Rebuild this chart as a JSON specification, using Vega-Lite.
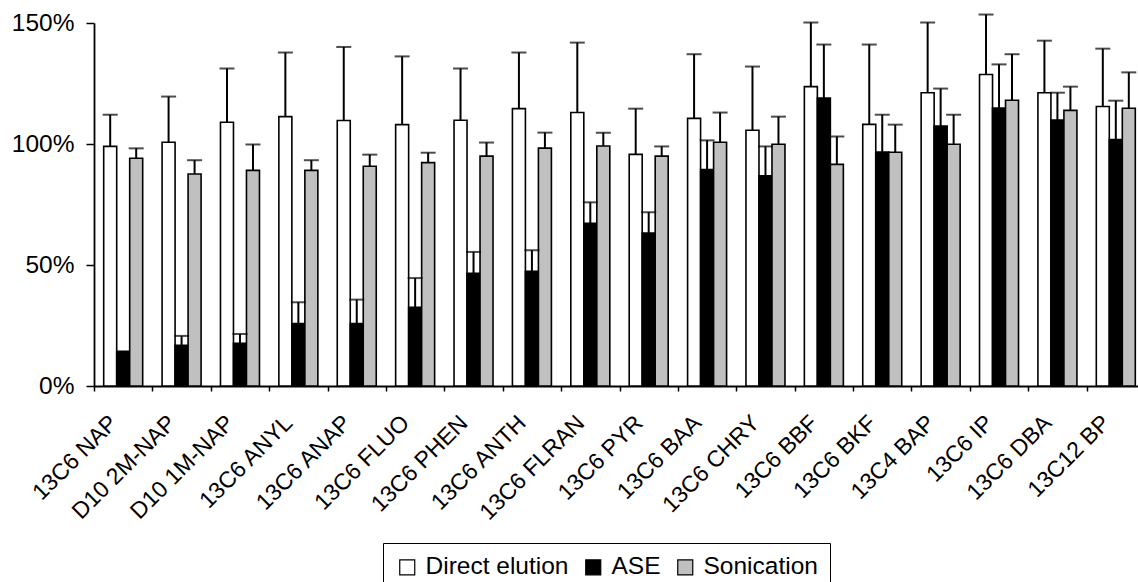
{
  "$schema": "https://vega.github.io/schema/vega-lite/v6.json",
  "width": 1044,
  "height": 363,
  "autosize": {"type": "none"},
  "padding": {"left": 94, "top": 23, "right": 0, "bottom": 196},
  "background": "white",
  "config": {
    "view": {"stroke": null},
    "font": "Liberation Sans",
    "axis": {"domainColor": "black", "tickColor": "black", "labelColor": "black", "grid": false, "labelFont": "Liberation Sans"}
  },
  "data": {
    "values": [
      {"category": "13C6 NAP", "method": "Direct elution", "recovery": 99.0, "upper": 112.1},
      {"category": "13C6 NAP", "method": "ASE", "recovery": 14.3, "upper": 14.3},
      {"category": "13C6 NAP", "method": "Sonication", "recovery": 94.1, "upper": 98.2},
      {"category": "D10 2M-NAP", "method": "Direct elution", "recovery": 100.7, "upper": 119.6},
      {"category": "D10 2M-NAP", "method": "ASE", "recovery": 16.8, "upper": 20.7},
      {"category": "D10 2M-NAP", "method": "Sonication", "recovery": 87.6, "upper": 93.3},
      {"category": "D10 1M-NAP", "method": "Direct elution", "recovery": 109.0, "upper": 131.2},
      {"category": "D10 1M-NAP", "method": "ASE", "recovery": 17.6, "upper": 21.5},
      {"category": "D10 1M-NAP", "method": "Sonication", "recovery": 89.1, "upper": 99.8},
      {"category": "13C6 ANYL", "method": "Direct elution", "recovery": 111.3, "upper": 137.8},
      {"category": "13C6 ANYL", "method": "ASE", "recovery": 25.8, "upper": 34.6},
      {"category": "13C6 ANYL", "method": "Sonication", "recovery": 89.1, "upper": 93.3},
      {"category": "13C6 ANAP", "method": "Direct elution", "recovery": 109.7, "upper": 140.1},
      {"category": "13C6 ANAP", "method": "ASE", "recovery": 25.8, "upper": 35.7},
      {"category": "13C6 ANAP", "method": "Sonication", "recovery": 90.8, "upper": 95.6},
      {"category": "13C6 FLUO", "method": "Direct elution", "recovery": 108.0, "upper": 136.2},
      {"category": "13C6 FLUO", "method": "ASE", "recovery": 32.5, "upper": 44.6},
      {"category": "13C6 FLUO", "method": "Sonication", "recovery": 92.3, "upper": 96.4},
      {"category": "13C6 PHEN", "method": "Direct elution", "recovery": 109.8, "upper": 131.2},
      {"category": "13C6 PHEN", "method": "ASE", "recovery": 46.6, "upper": 55.4},
      {"category": "13C6 PHEN", "method": "Sonication", "recovery": 95.0, "upper": 100.6},
      {"category": "13C6 ANTH", "method": "Direct elution", "recovery": 114.6, "upper": 137.8},
      {"category": "13C6 ANTH", "method": "ASE", "recovery": 47.4, "upper": 56.1},
      {"category": "13C6 ANTH", "method": "Sonication", "recovery": 98.3, "upper": 104.7},
      {"category": "13C6 FLRAN", "method": "Direct elution", "recovery": 113.0, "upper": 141.9},
      {"category": "13C6 FLRAN", "method": "ASE", "recovery": 67.2, "upper": 75.9},
      {"category": "13C6 FLRAN", "method": "Sonication", "recovery": 99.2, "upper": 104.7},
      {"category": "13C6 PYR", "method": "Direct elution", "recovery": 95.7, "upper": 114.6},
      {"category": "13C6 PYR", "method": "ASE", "recovery": 63.2, "upper": 71.8},
      {"category": "13C6 PYR", "method": "Sonication", "recovery": 95.0, "upper": 99.0},
      {"category": "13C6 BAA", "method": "Direct elution", "recovery": 110.6, "upper": 137.1},
      {"category": "13C6 BAA", "method": "ASE", "recovery": 89.4, "upper": 101.5},
      {"category": "13C6 BAA", "method": "Sonication", "recovery": 100.7, "upper": 113.0},
      {"category": "13C6 CHRY", "method": "Direct elution", "recovery": 105.7, "upper": 132.0},
      {"category": "13C6 CHRY", "method": "ASE", "recovery": 86.9, "upper": 99.0},
      {"category": "13C6 CHRY", "method": "Sonication", "recovery": 99.9, "upper": 111.3},
      {"category": "13C6 BBF", "method": "Direct elution", "recovery": 123.7, "upper": 150.2},
      {"category": "13C6 BBF", "method": "ASE", "recovery": 119.0, "upper": 141.1},
      {"category": "13C6 BBF", "method": "Sonication", "recovery": 91.6, "upper": 103.1},
      {"category": "13C6 BKF", "method": "Direct elution", "recovery": 108.1, "upper": 141.1},
      {"category": "13C6 BKF", "method": "ASE", "recovery": 96.7, "upper": 112.1},
      {"category": "13C6 BKF", "method": "Sonication", "recovery": 96.6, "upper": 108.0},
      {"category": "13C4 BAP", "method": "Direct elution", "recovery": 121.2, "upper": 150.2},
      {"category": "13C4 BAP", "method": "ASE", "recovery": 107.4, "upper": 122.9},
      {"category": "13C4 BAP", "method": "Sonication", "recovery": 99.9, "upper": 112.1},
      {"category": "13C6 IP", "method": "Direct elution", "recovery": 128.7, "upper": 153.5},
      {"category": "13C6 IP", "method": "ASE", "recovery": 114.9, "upper": 132.9},
      {"category": "13C6 IP", "method": "Sonication", "recovery": 118.1, "upper": 137.1},
      {"category": "13C6 DBA", "method": "Direct elution", "recovery": 121.2, "upper": 142.7},
      {"category": "13C6 DBA", "method": "ASE", "recovery": 109.9, "upper": 121.2},
      {"category": "13C6 DBA", "method": "Sonication", "recovery": 113.9, "upper": 123.7},
      {"category": "13C12 BP", "method": "Direct elution", "recovery": 115.5, "upper": 139.4},
      {"category": "13C12 BP", "method": "ASE", "recovery": 101.8, "upper": 117.9},
      {"category": "13C12 BP", "method": "Sonication", "recovery": 114.8, "upper": 129.6}
    ]
  },
  "encoding": {
    "x": {
      "field": "category",
      "type": "nominal",
      "sort": null,
      "scale": {"range": [0, 1051], "paddingInner": 0, "paddingOuter": 0},
      "axis": {
        "title": null,
        "labelAngle": -45,
        "labelAlign": "right",
        "labelBaseline": "middle",
        "labelFontSize": 23,
        "tickBand": "extent",
        "tickSize": 5,
        "tickWidth": 1.5,
        "domainWidth": 1.8,
        "labelPadding": 28,
        "labelOffset": -10,
        "labelLimit": 300
      }
    },
    "xOffset": {
      "field": "method",
      "type": "nominal",
      "sort": ["Direct elution", "ASE", "Sonication"],
      "scale": {"paddingInner": 0, "paddingOuter": 0.746}
    }
  },
  "layer": [
    {
      "mark": {"type": "bar", "stroke": "black", "strokeWidth": 1.6},
      "encoding": {
        "y": {
          "field": "recovery",
          "type": "quantitative",
          "scale": {"domain": [0, 150], "nice": false},
          "axis": {
            "title": null,
            "values": [0, 50, 100, 150],
            "labelExpr": "datum.value + '%'",
            "labelFontSize": 24.5,
            "tickSize": 8,
            "tickWidth": 1.5,
            "domainWidth": 1.8,
            "labelPadding": 12
          }
        },
        "fill": {
          "field": "method",
          "type": "nominal",
          "sort": ["Direct elution", "ASE", "Sonication"],
          "scale": {"domain": ["Direct elution", "ASE", "Sonication"], "range": ["white", "black", "#c0c0c0"]},
          "legend": {
            "title": null,
            "orient": "none",
            "legendX": 289,
            "legendY": 520,
            "direction": "horizontal",
            "symbolType": "square",
            "symbolSize": 225,
            "symbolStrokeColor": "black",
            "symbolStrokeWidth": 1.2,
            "labelFontSize": 24.5,
            "labelFont": "Liberation Sans",
            "labelColor": "black",
            "labelOffset": 6,
            "columnPadding": 12,
            "labelLimit": 300,
            "strokeColor": "black",
            "padding": 12
          }
        }
      }
    },
    {
      "transform": [{"filter": "datum.upper > datum.recovery"}],
      "mark": {"type": "rule", "color": "black", "strokeWidth": 2},
      "encoding": {
        "y": {"field": "recovery", "type": "quantitative"},
        "y2": {"field": "upper"}
      }
    },
    {
      "transform": [{"filter": "datum.upper > datum.recovery"}],
      "mark": {"type": "tick", "color": "black", "thickness": 2, "size": 15},
      "encoding": {
        "y": {"field": "upper", "type": "quantitative"}
      }
    }
  ]
}
